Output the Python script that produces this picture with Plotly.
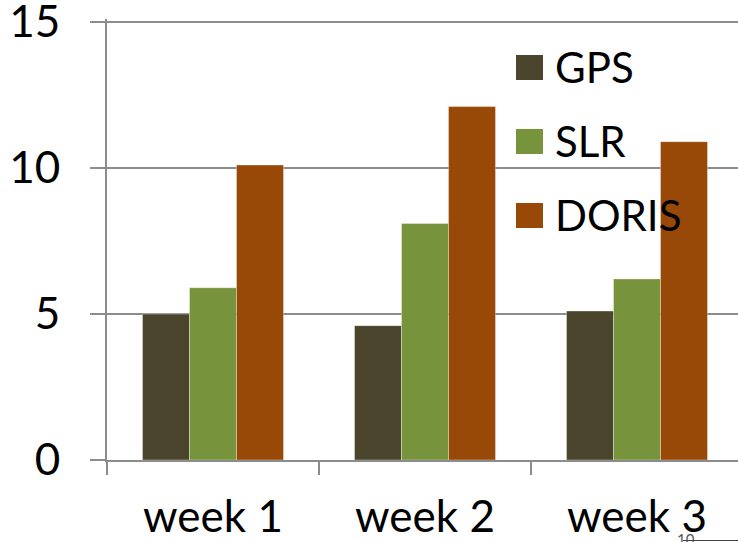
import plotly.graph_objects as go

categories = ["week 1", "week 2", "week 3"]
series_names = ["GPS", "SLR", "DORIS"]
gps = [5.0, 4.6, 5.1]
slr = [5.9, 8.1, 6.2]
doris = [10.1, 12.1, 10.9]
colors = ["#4a452c", "#77933c", "#984807"]
y_ticks = [0, 5, 10, 15]

OFF = 0  # body margin removed below
W, H = 738, 542
L, R, T, B = 107, 0, 19, 82
FONT = "Lato"
GRID = "#8c8c8c"
YMAX = 15.1

fig = go.Figure()
for name, vals, col in zip(series_names, [gps, slr, doris], colors):
    fig.add_trace(go.Bar(x=categories, y=vals, name=name, marker_color=col,
                         marker_line=dict(width=1, color="rgba(255,255,255,0.35)"),
                         showlegend=False))

pw = W - L - R
ph = H - T - B
def px2x(px):
    return (px - OFF - L) / pw
def py2y(py):
    return (H - B - (py - OFF)) / ph

# manual legend
leg_centers = [67.5, 141.5, 215.5]
for name, col, cy in zip(series_names, colors, leg_centers):
    fig.add_shape(type="rect", xref="paper", yref="paper",
                  x0=px2x(516), x1=px2x(543), y0=py2y(cy + 12.5), y1=py2y(cy - 12.5),
                  fillcolor=col, line=dict(width=0))
    fig.add_annotation(xref="paper", yref="paper", x=px2x(553), y=py2y(cy - 1),
                       text=name, showarrow=False, xanchor="left", yanchor="middle",
                       font=dict(family=FONT, size=42, color="black"))

# stray footer artifact
fig.add_shape(type="line", xref="paper", yref="paper",
              x0=px2x(683), x1=px2x(738), y0=py2y(540.5), y1=py2y(540.5),
              line=dict(color="#404040", width=1))
fig.add_annotation(xref="paper", yref="paper", x=px2x(686), y=py2y(539),
                   text="10", showarrow=False, xanchor="center", yanchor="middle",
                   font=dict(family=FONT, size=15, color="#555555"))

fig.update_layout(
    width=W, height=H,
    margin=dict(l=L, r=R, t=T, b=B, pad=0),
    paper_bgcolor="white", plot_bgcolor="white",
    barmode="group", bargap=0.335, bargroupgap=0,
    font=dict(family=FONT, size=44, color="black"),
)
fig.update_xaxes(
    range=[-0.5, -0.5 + pw / 212.0], tickson="boundaries", automargin=False,
    ticks="outside", ticklen=13, tickwidth=2, tickcolor=GRID,
    showline=True, linecolor=GRID, linewidth=2, showgrid=False,
    ticklabelstandoff=17, ticklabeloverflow="allow",
    tickfont=dict(family=FONT, size=44),
)
fig.update_yaxes(
    range=[0, YMAX], tickvals=y_ticks, ticktext=[str(v) for v in y_ticks],
    automargin=False, ticklabeloverflow="allow",
    ticks="outside", ticklen=15, tickwidth=2, tickcolor=GRID,
    showline=True, linecolor=GRID, linewidth=2,
    showgrid=True, gridcolor=GRID, gridwidth=2, zeroline=False,
    ticklabelstandoff=21, tickfont=dict(family=FONT, size=44),
)

fig.write_html("out.html", config={"displayModeBar": False},
               post_script="document.body.style.margin='0';document.body.style.overflow='hidden';")
